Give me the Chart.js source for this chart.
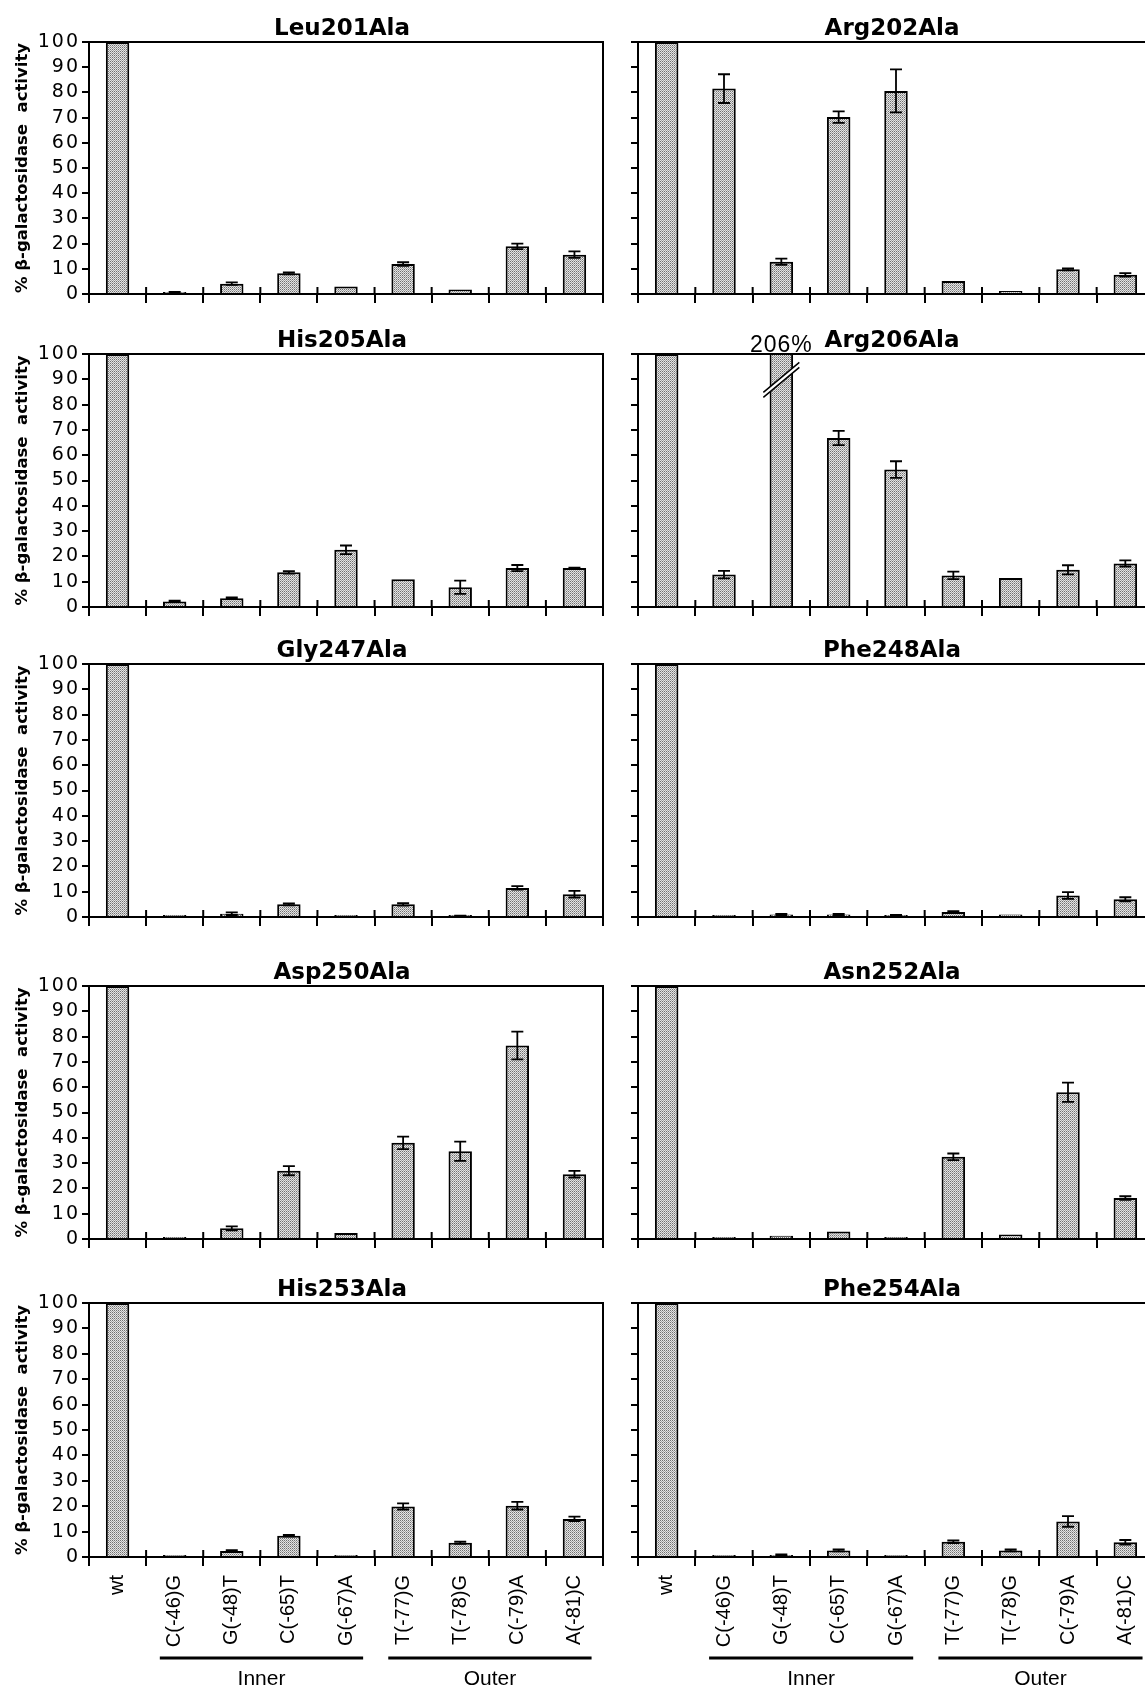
<!DOCTYPE html>
<html>
<head>
<meta charset="utf-8">
<script src="https://cdn.jsdelivr.net/npm/chart.js@4.4.1/dist/chart.umd.min.js"></script>
<style>
  html, body { margin: 0; padding: 0; background: #fff; }
  body { width: 1145px; height: 1691px; overflow: hidden; position: relative; }
  canvas { position: absolute; }
</style>
</head>
<body>
<script>
// categories (same for every panel)
const categories = ['wt', 'C(-46)G', 'G(-48)T', 'C(-65)T', 'G(-67)A', 'T(-77)G', 'T(-78)G', 'C(-79)A', 'A(-81)C'];
const yTicks = [0, 10, 20, 30, 40, 50, 60, 70, 80, 90, 100];
const groupNames = ['Inner', 'Outer'];
const groupFirst = [1, 5];
const groupLast = [4, 8];

// % beta-galactosidase activity (value, error)
const leu201Ala    = [100, 0.6, 4.1, 8.2, 3.0, 11.9, 1.8, 18.9, 15.6];
const leu201AlaErr = [0, 0.2, 0.5, 0.4, 0, 0.7, 0, 1.1, 1.3];
const arg202Ala    = [100, 81.5, 12.8, 70.2, 80.6, 5.2, 1.2, 9.8, 7.6];
const arg202AlaErr = [0, 5.7, 1.2, 2.3, 8.5, 0, 0, 0.4, 0.7];
const his205Ala    = [100, 2.2, 3.5, 13.7, 22.6, 11.0, 7.8, 15.4, 15.4];
const his205AlaErr = [0, 0.3, 0.3, 0.5, 1.7, 0, 2.6, 1.2, 0.2];
const arg206Ala    = [100, 12.8, 206, 66.8, 54.3, 12.5, 11.5, 14.7, 17.2];
const arg206AlaErr = [0, 1.5, 0, 2.8, 3.3, 1.5, 0, 1.8, 1.2];
const gly247Ala    = [100, 0.3, 1.3, 5.0, 0.3, 5.0, 0.3, 11.5, 9.0];
const gly247AlaErr = [0, 0, 0.5, 0.4, 0, 0.5, 0.2, 0.7, 1.3];
const phe248Ala    = [100, 0.2, 1.0, 1.0, 0.5, 2.0, 1.0, 8.5, 7.0];
const phe248AlaErr = [0, 0, 0.2, 0.2, 0.3, 0.3, 0, 1.3, 0.8];
const asp250Ala    = [100, 0.3, 4.2, 27.0, 2.4, 38.0, 34.7, 76.5, 25.6];
const asp250AlaErr = [0, 0, 0.8, 1.8, 0, 2.5, 3.8, 5.5, 1.3];
const asn252Ala    = [100, 0, 1.3, 3.0, 0.2, 32.5, 1.8, 58.0, 16.2];
const asn252AlaErr = [0, 0, 0, 0, 0, 1.3, 0, 3.8, 0.7];
const his253Ala    = [100, 0.4, 2.4, 8.4, 0.5, 19.9, 5.6, 20.2, 15.0];
const his253AlaErr = [0, 0, 0.3, 0.3, 0, 1.2, 0.4, 1.5, 0.9];
const phe254Ala    = [100, 0.1, 0.7, 2.6, 0.1, 6.0, 2.6, 14.0, 5.8];
const phe254AlaErr = [0, 0, 0.3, 0.4, 0, 0.5, 0.4, 2.1, 0.9];

const panels = [
  { title: 'Leu201Ala', values: leu201Ala, errors: leu201AlaErr },
  { title: 'Arg202Ala', values: arg202Ala, errors: arg202AlaErr },
  { title: 'His205Ala', values: his205Ala, errors: his205AlaErr },
  { title: 'Arg206Ala', values: arg206Ala, errors: arg206AlaErr },
  { title: 'Gly247Ala', values: gly247Ala, errors: gly247AlaErr },
  { title: 'Phe248Ala', values: phe248Ala, errors: phe248AlaErr },
  { title: 'Asp250Ala', values: asp250Ala, errors: asp250AlaErr },
  { title: 'Asn252Ala', values: asn252Ala, errors: asn252AlaErr },
  { title: 'His253Ala', values: his253Ala, errors: his253AlaErr },
  { title: 'Phe254Ala', values: phe254Ala, errors: phe254AlaErr },
];

// page layout
const rowTops = [42, 354, 664, 986, 1303];
const rowBottoms = [294, 607, 917, 1239, 1557];
const TOP_PAD = 45;
const FONT = '"Liberation Sans", Arial, Helvetica, sans-serif';
const BOLD = '"DejaVu Sans", Verdana, sans-serif';

// dotted grey fill like the printed bars
function stipple() {
  const c = document.createElement('canvas');
  c.width = 2; c.height = 2;
  const g = c.getContext('2d');
  g.fillStyle = '#e4e4e4';
  g.fillRect(0, 0, 2, 2);
  g.fillStyle = '#707070';
  g.fillRect(0, 0, 1, 1);
  g.fillStyle = '#a4a4a4';
  g.fillRect(1, 1, 1, 1);
  return g.createPattern(c, 'repeat');
}
const barFill = stipple();

// wider letter spacing for the y tick labels
const spacing = {
  id: 'spacing',
  beforeDraw(chart) {
    const y = chart.scales.y;
    if (y.__spaced) return;
    y.__spaced = true;
    const drawLabels = y.drawLabels;
    y.drawLabels = function (area) {
      this.ctx.letterSpacing = '2px';
      drawLabels.call(this, area);
      this.ctx.letterSpacing = '0px';
    };
  }
};

const panelTitle = {
  id: 'panelTitle',
  afterDraw(chart, args, opts) {
    const { ctx, chartArea } = chart;
    ctx.save();
    ctx.font = 'bold 23px ' + BOLD;
    ctx.fillStyle = '#000';
    ctx.textAlign = 'center';
    ctx.textBaseline = 'alphabetic';
    ctx.fillText(opts.text, (chartArea.left + chartArea.right) / 2 - 4, chartArea.top - 7);
    ctx.restore();
  }
};

// top/right frame and the part of the x ticks that crosses above the axis
const frame = {
  id: 'frame',
  afterDraw(chart) {
    const { ctx, chartArea } = chart;
    const x = chart.scales.x;
    ctx.save();
    ctx.strokeStyle = '#000';
    ctx.lineWidth = 2;
    ctx.beginPath();
    ctx.moveTo(chartArea.left, chartArea.top);
    ctx.lineTo(chartArea.right, chartArea.top);
    ctx.lineTo(chartArea.right, chartArea.bottom);
    for (let i = 0; i <= categories.length; i++) {
      const px = x.getPixelForValue(i - 0.5);
      ctx.moveTo(px, chartArea.bottom - 7);
      ctx.lineTo(px, chartArea.bottom);
    }
    ctx.stroke();
    ctx.restore();
  }
};

const errorBars = {
  id: 'errorBars',
  afterDatasetsDraw(chart, args, opts) {
    const { ctx } = chart;
    const y = chart.scales.y;
    const meta = chart.getDatasetMeta(0);
    const values = chart.data.datasets[0].data;
    ctx.save();
    ctx.strokeStyle = '#000';
    ctx.lineWidth = 1.8;
    meta.data.forEach((bar, i) => {
      const v = values[i], e = opts.errors[i];
      if (v > y.max) {
        // broken bar with its real value written above it
        const cy = y.getPixelForValue(90);
        ctx.fillStyle = '#fff';
        ctx.beginPath();
        ctx.moveTo(bar.x - 18, cy + 13);
        ctx.lineTo(bar.x + 18, cy - 17);
        ctx.lineTo(bar.x + 18, cy - 12);
        ctx.lineTo(bar.x - 18, cy + 18);
        ctx.closePath();
        ctx.fill();
        ctx.lineWidth = 1.5;
        ctx.beginPath();
        ctx.moveTo(bar.x - 18, cy + 13);
        ctx.lineTo(bar.x + 18, cy - 17);
        ctx.moveTo(bar.x - 18, cy + 18);
        ctx.lineTo(bar.x + 18, cy - 12);
        ctx.stroke();
        ctx.lineWidth = 1.8;
        ctx.font = '23px ' + FONT;
        ctx.letterSpacing = '1px';
        ctx.fillStyle = '#000';
        ctx.textAlign = 'center';
        ctx.fillText(v + '%', bar.x, chart.chartArea.top - 2);
        ctx.letterSpacing = '0px';
        return;
      }
      if (!e) return;
      const top = y.getPixelForValue(v + e), bot = y.getPixelForValue(Math.max(0, v - e));
      ctx.beginPath();
      ctx.moveTo(bar.x, top); ctx.lineTo(bar.x, bot);
      ctx.moveTo(bar.x - 6, top); ctx.lineTo(bar.x + 6, top);
      ctx.moveTo(bar.x - 6, bot); ctx.lineTo(bar.x + 6, bot);
      ctx.stroke();
    });
    ctx.restore();
  }
};

// Inner / Outer brackets under the bottom row
const groups = {
  id: 'groups',
  afterDraw(chart, args, opts) {
    if (!opts.show) return;
    const { ctx, chartArea } = chart;
    const x = chart.scales.x;
    ctx.save();
    ctx.strokeStyle = '#000';
    ctx.lineWidth = 3;
    ctx.fillStyle = '#000';
    ctx.font = '21px ' + FONT;
    ctx.textAlign = 'center';
    groupNames.forEach((name, g) => {
      const a = x.getPixelForValue(groupFirst[g] - 0.26);
      const b = x.getPixelForValue(groupLast[g] + 0.3);
      ctx.beginPath();
      ctx.moveTo(a, chartArea.bottom + 101);
      ctx.lineTo(b, chartArea.bottom + 101);
      ctx.stroke();
      ctx.fillText(name, (a + b) / 2, chartArea.bottom + 128);
    });
    ctx.restore();
  }
};

panels.forEach((p, k) => {
  const row = Math.floor(k / 2), col = k % 2;
  const last = row === rowTops.length - 1;
  const xh = last ? 1691 - rowBottoms[row] : 18;
  const canvas = document.createElement('canvas');
  canvas.width = col === 0 ? 620 : 564;
  canvas.height = TOP_PAD + (rowBottoms[row] - rowTops[row]) + xh;
  canvas.style.left = (col === 0 ? 0 : 600) + 'px';
  canvas.style.top = (rowTops[row] - TOP_PAD) + 'px';
  document.body.appendChild(canvas);

  new Chart(canvas, {
    type: 'bar',
    data: {
      labels: categories,
      datasets: [{
        data: p.values,
        backgroundColor: barFill,
        borderColor: '#000',
        borderWidth: 2,
        barPercentage: 0.41,
        categoryPercentage: 1,
        minBarLength: 2,
        clip: 1
      }]
    },
    options: {
      responsive: false,
      animation: false,
      devicePixelRatio: 1,
      layout: { padding: { top: TOP_PAD, right: col === 0 ? 17 : 10, left: 0, bottom: 0 } },
      plugins: {
        legend: { display: false },
        tooltip: { enabled: false },
        panelTitle: { text: p.title },
        errorBars: { errors: p.errors },
        groups: { show: last }
      },
      scales: {
        x: {
          grid: { drawOnChartArea: false, drawTicks: true, tickLength: 9, color: '#000', lineWidth: 2, offset: true },
          border: { color: '#000', width: 2 },
          ticks: {
            display: last, autoSkip: false, minRotation: 90, maxRotation: 90, padding: 9,
            color: '#000', font: { family: FONT, size: 20 }
          },
          afterFit: s => { s.height = xh; }
        },
        y: {
          min: 0,
          max: 100,
          afterBuildTicks: s => { s.ticks = yTicks.map(v => ({ value: v })); },
          grid: { drawOnChartArea: false, drawTicks: true, tickLength: 7, color: '#000', lineWidth: 2 },
          border: { color: '#000', width: 2 },
          ticks: { display: col === 0, autoSkip: false, padding: 2, color: '#000', font: { family: BOLD, size: 19 } },
          title: {
            display: col === 0,
            text: '% β-galactosidase  activity',
            color: '#000',
            font: { family: BOLD, size: 16.5, weight: 'bold' },
            padding: { top: 13, bottom: 0 }
          },
          afterFit: s => { s.width = col === 0 ? 89 : 38; }
        }
      }
    },
    plugins: [spacing, panelTitle, frame, errorBars, groups]
  });
});
</script>
</body>
</html>
